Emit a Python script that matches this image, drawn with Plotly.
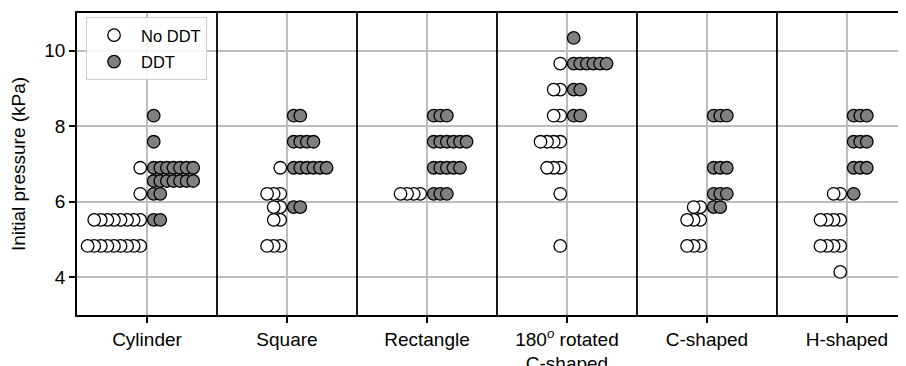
import plotly.graph_objects as go

categories = ["Cylinder", "Square", "Rectangle", "180<sup><i>o</i></sup> rotated<br>C-shaped", "C-shaped", "H-shaped"]

# Initial pressure values (kPa), per shape
no_ddt = {
    "Cylinder": [4.83, 4.83, 4.83, 4.83, 4.83, 4.83, 4.83, 4.83, 4.83,
                 5.52, 5.52, 5.52, 5.52, 5.52, 5.52, 5.52, 5.52,
                 6.21, 6.90],
    "Square": [4.83, 4.83, 4.83, 5.52, 5.52, 5.86, 5.86, 6.21, 6.21, 6.21, 6.90],
    "Rectangle": [6.21, 6.21, 6.21, 6.21],
    "180 rotated C-shaped": [4.83, 6.21, 6.90, 6.90, 6.90, 7.59, 7.59, 7.59, 7.59,
                             8.28, 8.28, 8.97, 8.97, 9.66],
    "C-shaped": [4.83, 4.83, 4.83, 5.52, 5.52, 5.52, 5.86, 5.86],
    "H-shaped": [4.14, 4.83, 4.83, 4.83, 4.83, 5.52, 5.52, 5.52, 5.52, 6.21, 6.21],
}
ddt = {
    "Cylinder": [5.52, 5.52, 6.21, 6.21,
                 6.55, 6.55, 6.55, 6.55, 6.55, 6.55, 6.55,
                 6.90, 6.90, 6.90, 6.90, 6.90, 6.90, 6.90,
                 7.59, 8.28],
    "Square": [5.86, 5.86, 6.90, 6.90, 6.90, 6.90, 6.90, 6.90,
               7.59, 7.59, 7.59, 7.59, 8.28, 8.28],
    "Rectangle": [6.21, 6.21, 6.21, 6.90, 6.90, 6.90, 6.90, 6.90,
                  7.59, 7.59, 7.59, 7.59, 7.59, 7.59, 8.28, 8.28, 8.28],
    "180 rotated C-shaped": [8.28, 8.28, 8.97, 8.97,
                             9.66, 9.66, 9.66, 9.66, 9.66, 9.66, 10.34],
    "C-shaped": [5.86, 5.86, 6.21, 6.21, 6.21, 6.90, 6.90, 6.90, 8.28, 8.28, 8.28],
    "H-shaped": [6.21, 6.90, 6.90, 6.90, 7.59, 7.59, 7.59, 8.28, 8.28, 8.28],
}
y_ticks = [4, 6, 8, 10]

START = 0.048
STEP = 0.047


def stack_positions(groups, sign):
    xs, ys = [], []
    for i, key in enumerate(groups):
        counts = {}
        pts = []
        for v in groups[key]:
            k = counts.get(v, 0)
            counts[v] = k + 1
            pts.append((v, k))
        pts.sort()
        for v, k in pts:
            xs.append(i + sign * (START + STEP * k))
            ys.append(v)
    return xs, ys


x_no, y_no = stack_positions(no_ddt, -1)
x_d, y_d = stack_positions(ddt, +1)

FONT = "Liberation Sans, Arial, sans-serif"

fig = go.Figure()
fig.add_trace(go.Scatter(
    x=x_no, y=y_no, mode="markers", name="No DDT", legendgroup="a",
    marker=dict(size=12.5, color="white", line=dict(color="black", width=1.3)),
))
fig.add_trace(go.Scatter(
    x=x_d, y=y_d, mode="markers", name="DDT", legendgroup="b",
    marker=dict(size=12.5, color="#808080", line=dict(color="black", width=1.3)),
))

for s in range(len(categories) - 1):
    fig.add_shape(type="line", xref="x", yref="paper", x0=s + 0.5, x1=s + 0.5, y0=0, y1=1,
                  line=dict(color="black", width=1.8))

fig.update_layout(
    width=906, height=366, autosize=False,
    margin=dict(l=69, r=0, t=5, b=59),
    plot_bgcolor="white", paper_bgcolor="white",
    font=dict(family=FONT, size=19, color="black"),
    showlegend=True,
    legend=dict(x=0.0108, y=0.987, xanchor="left", yanchor="top",
                bgcolor="rgba(255,255,255,0.85)", bordercolor="#cccccc", borderwidth=1,
                font=dict(size=16.5), itemwidth=44, traceorder="grouped", tracegroupgap=2),
)
fig.update_xaxes(
    range=[-0.5, 5.479], tickvals=list(range(len(categories))), ticktext=categories,
    showgrid=True, gridcolor="#bdbdbd", gridwidth=1.5,
    showline=True, linecolor="black", linewidth=1.8, mirror=True,
    ticks="outside", ticklen=6, tickwidth=1.5, tickcolor="black",
    zeroline=False, tickfont=dict(size=19), automargin=False,
)
fig.update_yaxes(
    range=[3, 11], tickvals=y_ticks, ticktext=[str(t) for t in y_ticks],
    showgrid=True, gridcolor="#bdbdbd", gridwidth=1.5,
    showline=True, linecolor="black", linewidth=1.8, mirror=False,
    ticks="outside", ticklen=6, tickwidth=1.5, tickcolor="black",
    zeroline=False, tickfont=dict(size=19), automargin=False,
    title=dict(text="Initial pressure (kPa)", font=dict(size=19), standoff=14),
)

fig.write_html("out.html")
